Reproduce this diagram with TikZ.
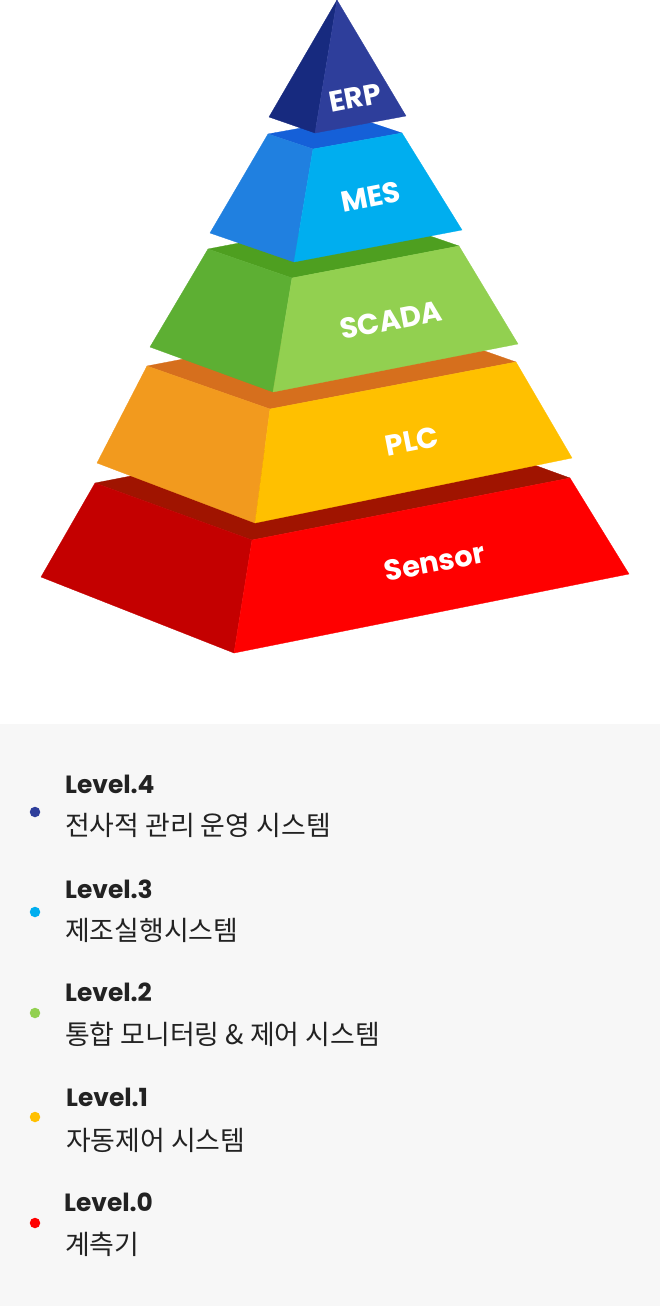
\documentclass[tikz,border=0pt]{standalone}
\usepackage{fontspec}
\setmainfont{Poppins}
\newfontfamily\kofont{Noto Sans CJK KR}
\usetikzlibrary{calc}
\definecolor{erpL}{HTML}{172A7F}
\definecolor{erpR}{HTML}{2E3E9B}
\definecolor{mesT}{HTML}{1560D8}
\definecolor{mesL}{HTML}{2080E0}
\definecolor{mesR}{HTML}{00AEEF}
\definecolor{scaT}{HTML}{4E9F20}
\definecolor{scaL}{HTML}{5DAF33}
\definecolor{scaR}{HTML}{92D050}
\definecolor{plcT}{HTML}{D66F1D}
\definecolor{plcL}{HTML}{F29A1E}
\definecolor{plcR}{HTML}{FFC000}
\definecolor{senT}{HTML}{A01400}
\definecolor{senL}{HTML}{C40000}
\definecolor{senR}{HTML}{FF0000}
\definecolor{legbg}{HTML}{F7F7F7}
\definecolor{ink}{HTML}{222222}
\tikzset{
  fc/.style  ={fill=#1, draw=#1, line width=0.3bp, line join=round},
  lbl/.style ={text=white, font=\bfseries\fontsize{29}{29}\selectfont, rotate=11, inner sep=0pt},
  ttl/.style ={anchor=base west, inner sep=0pt, text=ink, font=\bfseries\fontsize{25}{25}\selectfont},
  dsc/.style ={anchor=base west, inner sep=0pt, text=ink, font=\kofont\fontsize{27}{27}\selectfont},
  dot/.style ={circle, inner sep=0pt, minimum size=10.5bp},
}
\begin{document}
\begin{tikzpicture}[x=1bp, y=-1bp]
  \useasboundingbox (0,0) rectangle (660,1306);
  \fill[legbg] (0,724) rectangle (660,1306);
  % Sensor
  \coordinate (s-l) at (95,483);
  \coordinate (s-f) at (252,540);
  \coordinate (s-r) at (570,478);
  \coordinate (s-bl) at (41,577);
  \coordinate (s-bf) at (234,653);
  \coordinate (s-br) at (629,574);
  \filldraw[fc=senT] (s-l) -- ($(s-l)+(s-r)-(s-f)$) -- (s-r) -- (s-f) -- cycle;
  \filldraw[fc=senL] (s-l) -- (s-f) -- (s-bf) -- (s-bl) -- cycle;
  \filldraw[fc=senR] (s-f) -- (s-r) -- (s-br) -- (s-bf) -- cycle;
  \node[lbl] (sen) at (435,562) {Sensor};
  % PLC
  \coordinate (p-l) at (147,366);
  \coordinate (p-f) at (270,409);
  \coordinate (p-r) at (516,362);
  \coordinate (p-bl) at (97,463);
  \coordinate (p-bf) at (255,523);
  \coordinate (p-br) at (572,458);
  \filldraw[fc=plcT] (p-l) -- ($(p-l)+(p-r)-(p-f)$) -- (p-r) -- (p-f) -- cycle;
  \filldraw[fc=plcL] (p-l) -- (p-f) -- (p-bf) -- (p-bl) -- cycle;
  \filldraw[fc=plcR] (p-f) -- (p-r) -- (p-br) -- (p-bf) -- cycle;
  \node[lbl] (plc) at (412,441) {PLC};
  % SCADA
  \coordinate (c-l) at (208,249);
  \coordinate (c-f) at (292,278);
  \coordinate (c-r) at (459,246);
  \coordinate (c-bl) at (150,347);
  \coordinate (c-bf) at (273,392);
  \coordinate (c-br) at (518,344);
  \filldraw[fc=scaT] (c-l) -- ($(c-l)+(c-r)-(c-f)$) -- (c-r) -- (c-f) -- cycle;
  \filldraw[fc=scaL] (c-l) -- (c-f) -- (c-bf) -- (c-bl) -- cycle;
  \filldraw[fc=scaR] (c-f) -- (c-r) -- (c-br) -- (c-bf) -- cycle;
  \node[lbl] (sca) at (391,320) {SCADA};
  % MES
  \coordinate (m-l) at (268,134);
  \coordinate (m-f) at (313,149);
  \coordinate (m-r) at (402,133);
  \coordinate (m-bl) at (210,233);
  \coordinate (m-bf) at (294,262);
  \coordinate (m-br) at (462,230);
  \filldraw[fc=mesT] (m-l) -- ($(m-l)+(m-r)-(m-f)$) -- (m-r) -- (m-f) -- cycle;
  \filldraw[fc=mesL] (m-l) -- (m-f) -- (m-bf) -- (m-bl) -- cycle;
  \filldraw[fc=mesR] (m-f) -- (m-r) -- (m-br) -- (m-bf) -- cycle;
  \node[lbl] (mes) at (371,197) {MES};
  % ERP
  \coordinate (e-t) at (337,0);
  \coordinate (e-l) at (269,117);
  \coordinate (e-f) at (315,133);
  \coordinate (e-r) at (406,116);
  \filldraw[fc=erpL] (e-t) -- (e-l) -- (e-f) -- cycle;
  \filldraw[fc=erpR] (e-t) -- (e-f) -- (e-r) -- cycle;
  \node[lbl] (erp) at (355,98) {ERP};
  % legend
  \node[dot, fill=erpR] (d4) at (35,812) {};
  \node[ttl] (t4) at (65,793) {Level.4};
  \node[dsc] (k4) at (65,835) {전사적 관리 운영 시스템};
  \node[dot, fill=mesR] (d3) at (35,912) {};
  \node[ttl] (t3) at (65,898) {Level.3};
  \node[dsc] (k3) at (65,940) {제조실행시스템};
  \node[dot, fill=scaR] (d2) at (35,1013) {};
  \node[ttl] (t2) at (65,1001) {Level.2};
  \node[dsc] (k2) at (65,1044) {통합 모니터링 \& 제어 시스템};
  \node[dot, fill=plcR] (d1) at (35,1117) {};
  \node[ttl] (t1) at (66,1106) {Level.1};
  \node[dsc] (k1) at (66,1150) {자동제어 시스템};
  \node[dot, fill=senR] (d0) at (35,1223) {};
  \node[ttl] (t0) at (64,1211) {Level.0};
  \node[dsc] (k0) at (65,1254) {계측기};
\end{tikzpicture}
\end{document}
